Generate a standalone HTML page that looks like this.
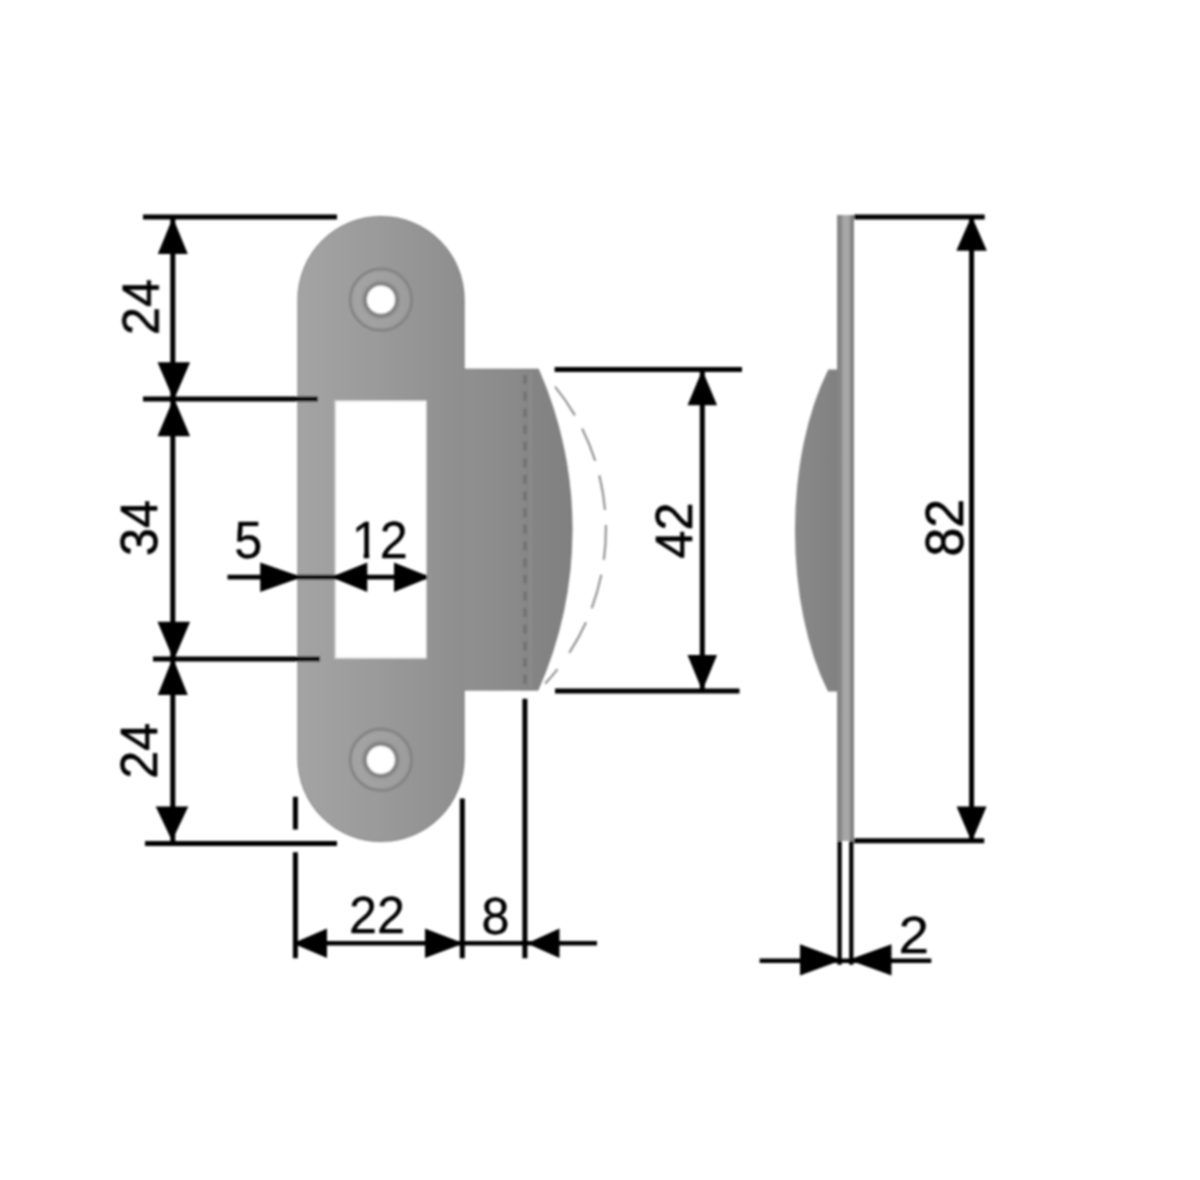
<!DOCTYPE html>
<html>
<head>
<meta charset="utf-8">
<title>Drawing</title>
<style>
html,body{margin:0;padding:0;background:#fff;}
body{width:1200px;height:1180px;overflow:hidden;}
svg{display:block;}
text{font-family:"Liberation Sans",Arial,sans-serif;font-size:52px;fill:#000;stroke:#000;stroke-width:0.65px;stroke-linejoin:round;text-anchor:middle;}
.ln{stroke:#000;stroke-width:5;fill:none;}
.ar{fill:#000;}
text.h{stroke-width:0.3px;}
</style>
</head>
<body>
<svg width="1200" height="1180" viewBox="0 0 1200 1180">
<defs>
<linearGradient id="gp" gradientUnits="userSpaceOnUse" x1="297" y1="0" x2="464" y2="0">
<stop offset="0" stop-color="#a4a4a4"/><stop offset="0.5" stop-color="#9a9a9a"/><stop offset="1" stop-color="#8e8e8e"/>
</linearGradient>
<linearGradient id="gt" gradientUnits="userSpaceOnUse" x1="430" y1="0" x2="573" y2="0">
<stop offset="0" stop-color="#949494"/><stop offset="0.6" stop-color="#8a8a8a"/><stop offset="0.7" stop-color="#858585"/><stop offset="1" stop-color="#808080"/>
</linearGradient>
<linearGradient id="gs" gradientUnits="userSpaceOnUse" x1="837" y1="0" x2="854" y2="0">
<stop offset="0" stop-color="#858585"/><stop offset="0.25" stop-color="#878787"/><stop offset="0.36" stop-color="#a6a6a6"/><stop offset="0.7" stop-color="#a8a8a8"/><stop offset="0.8" stop-color="#868686"/><stop offset="1" stop-color="#808080"/>
</linearGradient>
<linearGradient id="gb" gradientUnits="userSpaceOnUse" x1="795" y1="0" x2="837" y2="0">
<stop offset="0" stop-color="#898989"/><stop offset="1" stop-color="#818181"/>
</linearGradient>
<clipPath id="c12"><path d="M330,500 H430 V562 H378.6 V553 H369.15 V562 H363.75 V553 H330 Z"/></clipPath>
<filter id="soft" x="-5%" y="-5%" width="110%" height="110%"><feGaussianBlur stdDeviation="1"/></filter>
</defs>
<rect width="1200" height="1180" fill="#fff"/>
<g filter="url(#soft)">
<!-- front plate -->
<g id="plate">
<path d="M427.3,368.8 H538.6 A397,397 0 0 1 538.2,690.5 H427.3 Z" fill="url(#gt)"/>
<path fill-rule="evenodd" fill="url(#gp)" d="M297.4,299.5 A83.6,83.5 0 0 1 464.6,299.5 V758.5 A83.6,83.5 0 0 1 297.4,758.5 Z M334.4,400 V659 H427.3 V400 Z"/>
<path d="M427.3,400 H464.6 V369 H427.3Z" fill="url(#gp)"/>
<path fill="none" stroke="#808080" stroke-opacity="0.4" stroke-width="1.5" d="M298,299.5 A83,83 0 0 1 464,299.5 V369.4 H538.2 A397,397 0 0 1 537.8,690 H464 V758.5 A83,83 0 0 1 298,758.5 Z M335,400.6 V658.4 H426.7 V400.6 Z"/>
<line x1="525" y1="375" x2="525" y2="690" stroke="#6a6a6a" stroke-width="3.5" stroke-dasharray="9 7.65" opacity="0.7"/>
<line x1="530.5" y1="372" x2="530.5" y2="688" stroke="#989898" stroke-width="2" opacity="0.45"/>
<g fill="none" stroke="#fff" opacity="0.07">
<circle cx="381" cy="299.7" r="24" stroke-width="8"/>
<circle cx="380.9" cy="759.8" r="24" stroke-width="8"/>
</g>
<g fill="none" stroke="#828282">
<circle cx="381" cy="299.7" r="30.8" stroke-width="2.8" opacity="0.9"/>
<circle cx="381" cy="299.7" r="16.3" stroke-width="3.4" opacity="0.95"/>
<circle cx="380.9" cy="759.8" r="30.8" stroke-width="2.8" opacity="0.9"/>
<circle cx="380.9" cy="759.8" r="16.3" stroke-width="3.4" opacity="0.95"/>
</g>
<circle cx="381" cy="299.7" r="13.9" fill="#fff"/>
<circle cx="380.9" cy="759.8" r="13.9" fill="#fff"/>
<path d="M541,371 A226,226 0 0 1 540,689" fill="none" stroke="#979797" stroke-width="2.3" stroke-dasharray="0 21 35 15 35 15 35 15 35 15 35 15 35 20 19 200"/>
</g>
<!-- side view -->
<g id="side">
<path d="M838,369.5 H828.3 A110,225 0 0 0 828,691.6 H838 Z" fill="url(#gb)"/>
<rect x="837" y="215" width="17" height="626" fill="url(#gs)"/>
</g>
<!-- left vertical dims -->
<g id="dimleft">
<path class="ln" d="M143,217 H337 M143,399 H318 M153,659 H320 M145,843.5 H337 M172.8,217 V843"/>
<path class="ar" d="M171.20000000000002,221.2 L157.8,254.0 H187.8 L174.4,221.2Z M172.20000000000002,396.5 L157.5,362.2 H190.10000000000002 L175.4,396.5Z M172.20000000000002,401.5 L157.5,436.2 H190.10000000000002 L175.4,401.5Z M172.20000000000002,656.5 L157.5,621.7 H190.10000000000002 L175.4,656.5Z M171.20000000000002,661.5 L157.8,695.0 H187.8 L174.4,661.5Z M170.4,837.5 L155.7,806.5 H188.3 L173.6,837.5Z"/>
<text transform="translate(158.7,307) rotate(-90) scale(0.968,1.000)">24</text>
<text transform="translate(156.7,528) rotate(-90) scale(0.968,1.000)">34</text>
<text transform="translate(157,750.7) rotate(-90) scale(0.968,1.000)">24</text>
</g>
<!-- slot dims -->
<g id="dimslot">
<path class="ln" style="stroke-width:4.8" d="M227.5,577.2 H427"/>
<path class="ar" d="M297.5,575.6 L260.2,562.4000000000001 V592.0 L297.5,578.8000000000001Z M335,575.6 L367.3,562.4000000000001 V592.0 L335,578.8000000000001Z M426.6,575.6 L394.0,562.4000000000001 V592.0 L426.6,578.8000000000001Z"/>
<text class="h" transform="translate(248.2,558.3) scale(0.968,1.000)">5</text>
<g clip-path="url(#c12)"><text class="h" transform="translate(379.7,558.3) scale(0.968,1.000)">12</text></g>
</g>
<!-- bottom dims -->
<g id="dimbottom">
<path class="ln" d="M295.4,796.8 V829.4 M295.4,852.3 V958.3 M462.3,798.6 V958.3 M524.9,698.8 V958.3"/>
<path class="ln" style="stroke-width:4.6" d="M296,943.3 H597"/>
<path class="ar" d="M296.5,941.6999999999999 L327.0,928.5 V958.0999999999999 L296.5,944.9Z M459.5,941.6999999999999 L425.0,928.5 V958.0999999999999 L459.5,944.9Z M530.5,941.6999999999999 L559.5,928.5 V958.0999999999999 L530.5,944.9Z"/>
<text class="h" transform="translate(377,933) scale(0.968,1.000)">22</text>
<text class="h" transform="translate(495.5,934) scale(0.968,1.000)">8</text>
</g>
<!-- 42 dim -->
<g id="dim42">
<path class="ln" d="M554.6,369.4 H742 M555,691 H739.5 M702.3,369 V691"/>
<path class="ar" d="M700.6999999999999,373.7 L687.5,405.2 H717.0999999999999 L703.9,373.7Z M700.6999999999999,687 L687.5,655 H717.0999999999999 L703.9,687Z"/>
<text transform="translate(691.5,530.5) rotate(-90) scale(0.968,1.000)">42</text>
</g>
<!-- 82 dim -->
<g id="dim82">
<path class="ln" d="M854,217 H984.7 M854,840.8 H984.2 M971.6,217 V841"/>
<path class="ar" d="M970.0,219.5 L956.3000000000001,250.8 H986.9 L973.2,219.5Z M970.0,838.3 L956.6,806.5 H986.6 L973.2,838.3Z"/>
<text transform="translate(963,527.8) rotate(-90) scale(0.997,1.040)">82</text>
</g>
<!-- 2 dim -->
<g id="dim2">
<path class="ln" style="stroke-width:4.3" d="M839.6,841 V964.8 M851.3,841 V964.8"/>
<path class="ln" style="stroke-width:4.6" d="M759.6,960.7 H931.3"/>
<path class="ar" d="M838,958.3 L800,944.1999999999999 V975.6 L838,961.5Z M853,958.3 L891.5,944.1999999999999 V975.6 L853,961.5Z"/>
<text class="h" transform="translate(913.7,952.5) scale(1.055,1.000)">2</text>
</g>
</g>
</svg>
</body>
</html>
